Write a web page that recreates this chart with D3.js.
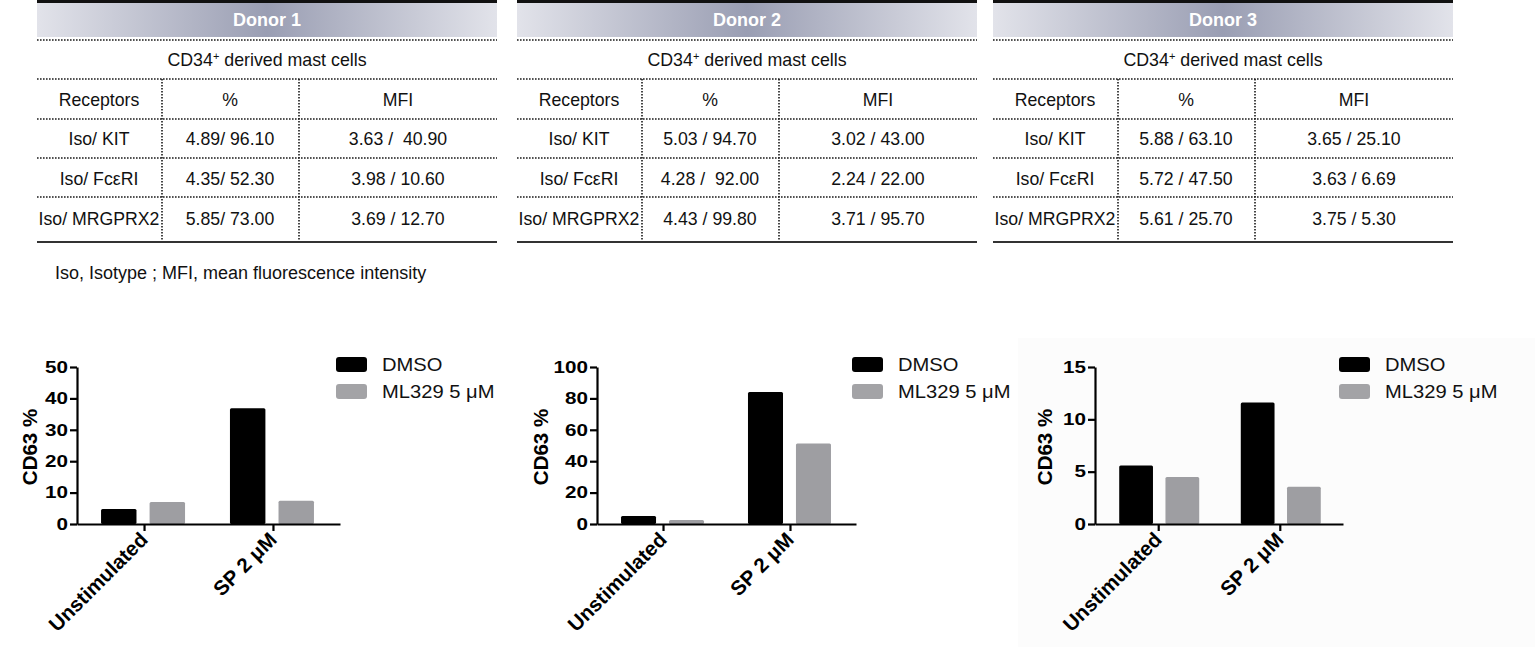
<!DOCTYPE html>
<html>
<head>
<meta charset="utf-8">
<script src="https://cdn.jsdelivr.net/npm/d3@7"></script>
<style>
  body { margin: 0; background: #fff; }
  text { font-family: "Liberation Sans", Arial, sans-serif; white-space: pre; }
</style>
</head>
<body>
<svg id="fig" width="1535" height="647"></svg>
<script>
// ---- table data ----
const donors = ["Donor 1", "Donor 2", "Donor 3"];
const receptors = ["Iso/ KIT", "Iso/ FcεRI", "Iso/ MRGPRX2"];
const pctValues = [
    ["4.89/ 96.10", "4.35/ 52.30", "5.85/ 73.00"],
    ["5.03 / 94.70", "4.28 /  92.00", "4.43 / 99.80"],
    ["5.88 / 63.10", "5.72 / 47.50", "5.61 / 25.70"]
];
const mfiValues = [
    ["3.63 /  40.90", "3.98 / 10.60", "3.69 / 12.70"],
    ["3.02 / 43.00", "2.24 / 22.00", "3.71 / 95.70"],
    ["3.65 / 25.10", "3.63 / 6.69", "3.75 / 5.30"]
];

// ---- bar chart data ----
const conditions = ["Unstimulated", "SP 2 μM"];
const treatments = ["DMSO", "ML329 5 μM"];
const cd63Donor1 = [[4.8, 7.0], [36.9, 7.4]];   // [condition][treatment]
const cd63Donor2 = [[5.1, 2.6], [84.0, 51.3]];
const cd63Donor3 = [[5.6, 4.5], [11.6, 3.55]];
const yMaxes = [50, 100, 15];
const yTicks = [[0, 10, 20, 30, 40, 50], [0, 20, 40, 60, 80, 100], [0, 5, 10, 15]];

const svg = d3.select("#fig");
const colors = { DMSO: "#000", "ML329 5 μM": "#9e9ea2" };
const fs = 17.7; // table font size

// faint background behind the third chart
svg.append("rect").attr("x", 1018).attr("y", 338).attr("width", 517).attr("height", 309)
    .attr("fill", "#fcfcfc");

// gradient for donor header
const grad = svg.append("defs").append("linearGradient").attr("id", "hdr");
grad.append("stop").attr("offset", "0%").attr("stop-color", "#e2e3ea");
grad.append("stop").attr("offset", "50%").attr("stop-color", "#9a9eb3");
grad.append("stop").attr("offset", "100%").attr("stop-color", "#e2e3ea");

// ---- tables ----
const tableX = [37, 517, 993];
const tableW = 460;
const colDiv = [125, 262];
const colMid = [62, 193, 361];
const dotLines = [40, 79, 119, 158, 197];
const rowY = [139, 179, 219];

function dotted(g, x1, y1, x2, y2) {
    g.append("line").attr("x1", x1).attr("y1", y1).attr("x2", x2).attr("y2", y2)
        .attr("stroke", "#1a1a1a").attr("stroke-width", 1.6).attr("stroke-dasharray", "1.6 1.4");
}

donors.forEach((donor, i) => {
    const g = svg.append("g").attr("transform", `translate(${tableX[i]},0)`);
    g.append("rect").attr("x", 0).attr("y", 0).attr("width", tableW).attr("height", 37).attr("fill", "url(#hdr)");
    g.append("rect").attr("x", 0).attr("y", 0).attr("width", tableW).attr("height", 3).attr("fill", "#111");
    g.append("text").attr("x", tableW / 2).attr("y", 20).attr("dy", "0.35em")
        .attr("text-anchor", "middle").attr("fill", "#fff").attr("font-weight", "bold")
        .attr("font-size", 18).text(donor);

    dotLines.forEach(y => dotted(g, 0, y, tableW, y));
    colDiv.forEach(x => dotted(g, x, 79, x, 241));
    g.append("line").attr("x1", 0).attr("x2", tableW).attr("y1", 242).attr("y2", 242)
        .attr("stroke", "#333").attr("stroke-width", 2.2);

    const cd = g.append("text").attr("x", tableW / 2).attr("y", 60).attr("dy", "0.35em")
        .attr("text-anchor", "middle").attr("font-size", 17.8).attr("fill", "#111");
    cd.append("tspan").text("CD34");
    cd.append("tspan").attr("font-size", 11).attr("dy", "-0.6em").text("+");
    cd.append("tspan").attr("dy", "0.35em").text(" derived mast cells");

    ["Receptors", "%", "MFI"].forEach((h, c) => {
        g.append("text").attr("x", colMid[c]).attr("y", 100).attr("dy", "0.35em")
            .attr("text-anchor", "middle").attr("font-size", fs).attr("fill", "#111").text(h);
    });

    receptors.forEach((r, k) => {
        [r, pctValues[i][k], mfiValues[i][k]].forEach((t, c) => {
            g.append("text").attr("x", colMid[c]).attr("y", rowY[k]).attr("dy", "0.35em")
                .attr("text-anchor", "middle").attr("font-size", fs).attr("fill", "#111").text(t);
        });
    });
});

svg.append("text").attr("x", 55).attr("y", 273).attr("dy", "0.35em").attr("font-size", 18)
    .attr("fill", "#111").text("Iso, Isotype ; MFI, mean fluorescence intensity");

// ---- bar charts ----
const charts = [
    { data: cd63Donor1, x0: 77, x1: 340, inner: [-43, 41], label: 30 },
    { data: cd63Donor2, x0: 597, x1: 856, inner: [-42, 41], label: 541 },
    { data: cd63Donor3, x0: 1095, x1: 1343, inner: [-39, 41], label: 1045 }
];
const yTop = 367, yBot = 524;

charts.forEach((ch, i) => {
    const g = svg.append("g");
    const x = d3.scalePoint().domain(conditions).range([ch.x0, ch.x1]).padding(0.52);
    const xs = d3.scaleBand().domain(treatments).range(ch.inner).paddingInner(0.27);
    const y = d3.scaleLinear().domain([0, yMaxes[i]]).range([yBot, yTop]);

    conditions.forEach((c, ci) => {
        g.selectAll(null).data(treatments).join("rect")
            .attr("x", t => x(c) + xs(t))
            .attr("y", (t, ti) => y(ch.data[ci][ti]))
            .attr("width", xs.bandwidth())
            .attr("height", (t, ti) => yBot - y(ch.data[ci][ti]))
            .attr("rx", 1.5)
            .attr("fill", t => colors[t]);
    });

    const ya = g.append("g").attr("transform", `translate(${ch.x0},0)`)
        .call(d3.axisLeft(y).tickValues(yTicks[i]).tickSize(7).tickSizeOuter(0).tickPadding(2));
    ya.selectAll("text").attr("font-size", 16.5).attr("font-weight", "bold").attr("fill", "#000")
        .attr("font-family", "Liberation Sans, Arial, sans-serif")
        .attr("transform", "scale(1.25,1)").attr("x", -7.3);

    const xa = g.append("g").attr("transform", `translate(0,${yBot})`)
        .call(d3.axisBottom(x).tickSize(7).tickSizeOuter(0));
    xa.selectAll("text").remove();
    [ya, xa].forEach(a => {
        a.select(".domain").attr("stroke", "#000").attr("stroke-width", 2.2);
        a.selectAll(".tick line").attr("stroke", "#000").attr("stroke-width", 2.2);
    });

    conditions.forEach(c => {
        g.append("text").attr("text-anchor", "end").attr("font-size", 20.5).attr("font-weight", "bold")
            .attr("transform", `translate(${x(c) + 5},${yBot + 17}) rotate(-45)`)
            .text(c);
    });

    g.append("text").attr("transform", `translate(${ch.label},447) rotate(-90)`)
        .attr("text-anchor", "middle").attr("dy", "0.35em").attr("font-size", 20.5)
        .attr("font-weight", "bold").text("CD63 %");

    // legend
    const lx = ch.x1 - 4;
    treatments.forEach((t, ti) => {
        const ly = 357 + ti * 27;
        g.append("rect").attr("x", lx).attr("y", ly).attr("width", 31).attr("height", 15)
            .attr("rx", 3).attr("fill", ti ? "#a3a3a6" : "#000");
        g.append("text").attr("transform", `translate(${lx + 46},${ly + 8}) scale(1.12,1)`)
            .attr("dy", "0.35em").attr("font-size", 18).attr("fill", "#111").text(t);
    });
});
</script>
</body>
</html>
